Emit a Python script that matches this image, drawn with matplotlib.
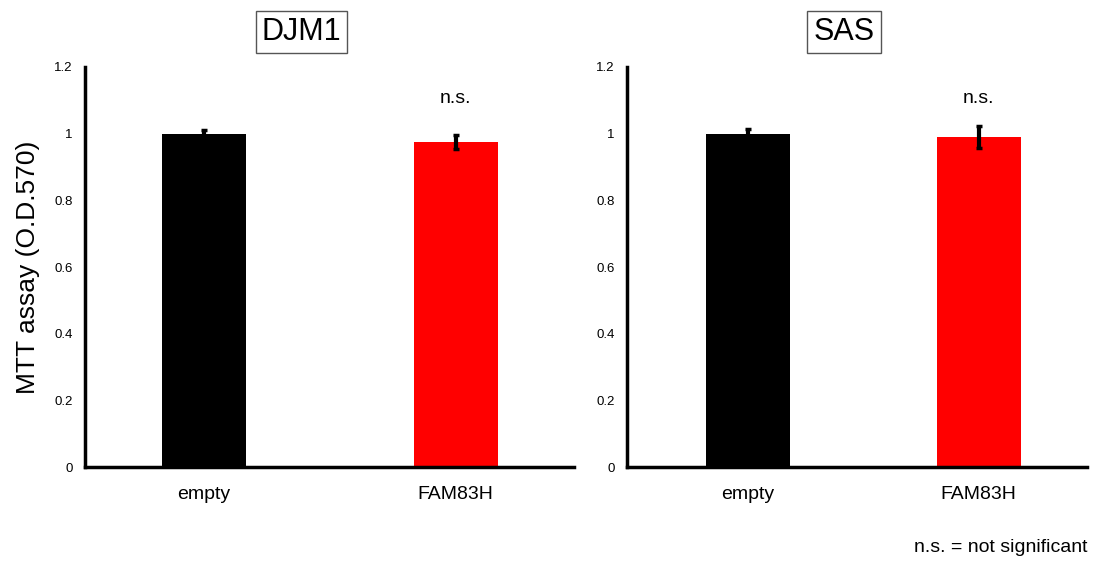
import matplotlib.pyplot as plt

plt.rcParams['font.family'] = ['Liberation Sans', 'DejaVu Sans']

groups = ["empty", "FAM83H"]
bar_colors = ["#000000", "#ff0000"]

djm1_means = [1.0, 0.975]
djm1_err = [0.012, 0.02]
sas_means = [1.0, 0.99]
sas_err = [0.015, 0.033]
ns_labels = ["", "n.s."]

W, H = 1098, 563


def draw_panel(ax, means, errs, xlim, width):
    xs = range(len(groups))
    ax.bar(xs, means, width=width, color=bar_colors, zorder=2)
    ax.errorbar(xs, means, yerr=errs, fmt="none", ecolor="black",
                elinewidth=3, capsize=2.5, capthick=2.5, zorder=3)
    for x, lab in zip(xs, ns_labels):
        if lab:
            ax.text(x, 1.105, lab, ha="center", va="center", fontsize=14)
    ax.set_xlim(*xlim)
    ax.set_ylim(0, 1.2)
    ax.set_yticks([0, 0.2, 0.4, 0.6, 0.8, 1.0, 1.2])
    ax.set_yticklabels(["0", "0.2", "0.4", "0.6", "0.8", "1", "1.2"])
    ax.set_xticks(list(xs))
    ax.set_xticklabels(groups)
    ax.tick_params(axis="y", length=0, pad=9, labelsize=9.5)
    ax.tick_params(axis="x", length=0, pad=14, labelsize=14)
    for side in ("top", "right"):
        ax.spines[side].set_visible(False)
    for side in ("left", "bottom"):
        ax.spines[side].set_linewidth(2.5)


fig = plt.figure(figsize=(W / 100, H / 100), dpi=100)

ax1 = fig.add_axes([85 / W, (H - 467) / H, 489 / W, 400 / H])
draw_panel(ax1, djm1_means, djm1_err, (-0.473, 1.471), 0.334)
ax1.set_ylabel("MTT assay (O.D.570)", fontsize=19, labelpad=10)

ax2 = fig.add_axes([627 / W, (H - 467) / H, 460 / W, 400 / H])
draw_panel(ax2, sas_means, sas_err, (-0.525, 1.47), 0.364)

box = dict(boxstyle="square,pad=0.2", facecolor="white", edgecolor="#555555", linewidth=1)
fig.text(301.5 / W, 1 - 32 / H, "DJM1", ha="center", va="center", fontsize=22, bbox=box)
fig.text(844 / W, 1 - 32 / H, "SAS", ha="center", va="center", fontsize=22, bbox=box)

fig.text(1088 / W, 1 - 547 / H, "n.s. = not significant", ha="right", va="center", fontsize=14)

fig.savefig("out.png", dpi=100)
